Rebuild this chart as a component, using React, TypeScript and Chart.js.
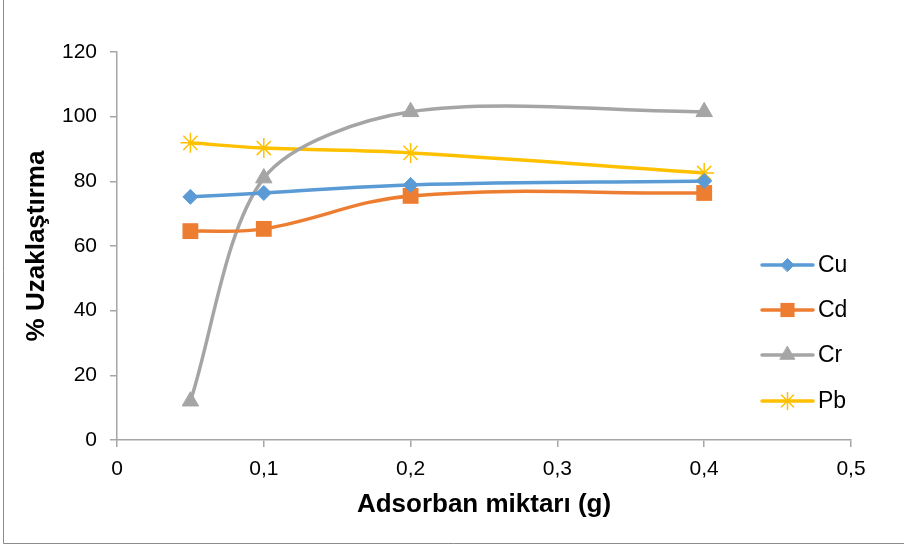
import React, { useEffect, useRef } from "react";
import { Chart, registerables } from "chart.js";
import { drawPoint } from "chart.js/helpers";

Chart.register(...registerables);

const xValues = [0.05, 0.1, 0.2, 0.4];
const cuValues = [75.2, 76.4, 78.9, 80.1];
const cdValues = [64.6, 65.3, 75.5, 76.4];
const crValues = [12.0, 81.0, 101.5, 101.5];
const pbValues = [91.9, 90.3, 88.8, 82.6];
const seriesNames = ["Cu", "Cd", "Cr", "Pb"];
const xTitle = "Adsorban miktarı (g)";
const yTitle = "% Uzaklaştırma";

const FONT = "'Liberation Sans', Arial, sans-serif";
const AXIS_COLOR = "#a6a6a6";

const styles = [
  { color: "#5B9BD5", pointStyle: "rectRot", radius: 7.5, legendRadius: 6.5, borderWidth: 1, tension: 0.4 },
  { color: "#ED7D31", pointStyle: "rect", radius: 11.2, legendRadius: 10, borderWidth: 0, tension: 0.38 },
  { color: "#A5A5A5", pointStyle: "triangle", radius: 9.5, legendRadius: 8.5, borderWidth: 1, tension: 0.3 },
  { color: "#FFC000", pointStyle: "star", radius: 10, legendRadius: 8.5, borderWidth: 1.5, tension: 0.38 },
];

const toPoints = (ys: number[]) => xValues.map((x, i) => ({ x, y: ys[i] }));

const overlayPlugin = {
  id: "overlay",
  afterDraw(chart: any) {
    const ctx = chart.ctx;
    const area = chart.chartArea;
    ctx.save();
    // frame
    ctx.strokeStyle = "#8c8c8c";
    ctx.lineWidth = 1;
    ctx.beginPath();
    ctx.moveTo(3.5, 0);
    ctx.lineTo(3.5, 543.5);
    ctx.lineTo(904, 543.5);
    ctx.stroke();

    // axis titles
    ctx.fillStyle = "#000";
    ctx.font = `bold 26px ${FONT}`;
    ctx.textAlign = "center";
    ctx.textBaseline = "middle";
    ctx.fillText(xTitle, (area.left + area.right) / 2, 505);
    ctx.save();
    ctx.translate(37, (area.top + area.bottom) / 2);
    ctx.rotate(-Math.PI / 2);
    ctx.fillText(yTitle, 0, 0);
    ctx.restore();

    // legend
    const legendY = [265, 310, 355, 401];
    chart.data.datasets.forEach((ds: any, i: number) => {
      const st = styles[i];
      const y = legendY[i];
      ctx.strokeStyle = st.color;
      ctx.lineWidth = 3.5;
      ctx.lineCap = "round";
      ctx.beginPath();
      ctx.moveTo(762, y);
      ctx.lineTo(813, y);
      ctx.stroke();
      ctx.fillStyle = st.color;
      ctx.strokeStyle = st.color;
      ctx.lineWidth = st.borderWidth;
      drawPoint(ctx, { pointStyle: st.pointStyle, radius: st.legendRadius, borderWidth: st.borderWidth, rotation: 0 } as any, 787.5, y);
      ctx.fillStyle = "#000";
      ctx.font = `23px ${FONT}`;
      ctx.textAlign = "left";
      ctx.textBaseline = "middle";
      ctx.fillText(ds.label, 818, y + 1);
    });
    ctx.restore();
  },
};

export default function App() {
  const ref = useRef<HTMLCanvasElement | null>(null);
  useEffect(() => {
    if (!ref.current) return;
    const all = [cuValues, cdValues, crValues, pbValues];
    const chart = new Chart(ref.current, {
      type: "line",
      data: {
        datasets: all.map((vals, i) => ({
          label: seriesNames[i],
          data: toPoints(vals),
          borderColor: styles[i].color,
          backgroundColor: styles[i].color,
          pointBackgroundColor: styles[i].color,
          pointBorderColor: styles[i].color,
          pointBorderWidth: styles[i].borderWidth,
          pointStyle: styles[i].pointStyle as any,
          pointRadius: styles[i].radius,
          pointHoverRadius: styles[i].radius,
          borderWidth: 3.5,
          tension: styles[i].tension,
          fill: false,
        })),
      },
      options: {
        animation: false,
        responsive: false,
        events: [],
        layout: { padding: { left: 0, top: 52, right: 53, bottom: 0 } },
        plugins: { legend: { display: false }, tooltip: { enabled: false } },
        scales: {
          x: {
            type: "linear",
            min: 0,
            max: 0.5,
            afterFit: (s: any) => { s.height = 106; },
            ticks: {
              stepSize: 0.1,
              padding: 10,
              color: "#000",
              font: { family: FONT, size: 21 },
              callback: (v: any) => (Number(v) === 0 ? "0" : Number(v).toFixed(1).replace(".", ",")),
            },
            grid: { drawOnChartArea: false, drawTicks: true, tickLength: 7, color: AXIS_COLOR, lineWidth: 1.5 },
            border: { color: AXIS_COLOR, width: 1.5 },
          },
          y: {
            type: "linear",
            min: 0,
            max: 120,
            afterFit: (s: any) => { s.width = 117; },
            ticks: {
              stepSize: 20,
              padding: 13,
              color: "#000",
              font: { family: FONT, size: 21 },
            },
            grid: { drawOnChartArea: false, drawTicks: true, tickLength: 7, color: AXIS_COLOR, lineWidth: 1.5 },
            border: { color: AXIS_COLOR, width: 1.5 },
          },
        },
      },
      plugins: [overlayPlugin],
    });
    return () => chart.destroy();
  }, []);
  return (
    <div style={{ position: "fixed", left: 0, top: 0, width: 904, height: 546, background: "#fff" }}>
      <canvas ref={ref} width={904} height={546} style={{ width: 904, height: 546, display: "block" }} />
    </div>
  );
}
